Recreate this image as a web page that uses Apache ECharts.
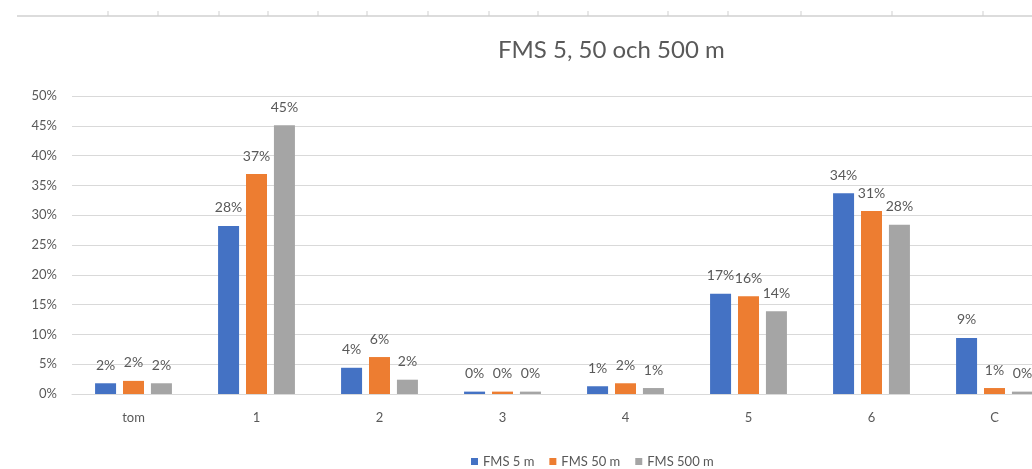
<!DOCTYPE html>
<html>
<head>
<meta charset="utf-8">
<script src="https://cdn.jsdelivr.net/npm/echarts@6/dist/echarts.min.js"></script>
<style>
  html, body { margin: 0; padding: 0; background: #fff; overflow: hidden; }
  /* the canvas is wider than the page, so the last group runs off the right edge */
  #chart { width: 1056px; height: 469px; }
</style>
</head>
<body>
<div id="chart"></div>
<script>
// Kategorier och andelar per avstånd (FMS 5, 50 och 500 m)
const categories = ['tom', '1', '2', '3', '4', '5', '6', 'C'];
const fms5   = [0.018, 0.282, 0.044, 0.004, 0.013, 0.168, 0.337, 0.094];
const fms50  = [0.022, 0.369, 0.062, 0.004, 0.018, 0.164, 0.307, 0.010];
const fms500 = [0.018, 0.451, 0.024, 0.004, 0.010, 0.139, 0.284, 0.004];
const seriesNames = ['FMS 5 m', 'FMS 50 m', 'FMS 500 m'];
const colors = ['#4472C4', '#ED7D31', '#A5A5A5'];

// Ruler ticks along the top strip
const rulerTicks = [108, 158, 219, 268, 318, 367, 428, 489, 538, 588, 668, 728, 801, 892, 983];

const FONT = 'Lato, "Open Sans", sans-serif';
const TEXT = '#595959';

const pct = v => Math.round(v * 100) + '%';

function barSeries(name, data, color) {
  return {
    name: name,
    type: 'bar',
    data: data,
    barWidth: 21,
    barGap: '33%',
    itemStyle: { color: color },
    label: {
      show: true,
      position: 'top',
      distance: 11,
      color: TEXT,
      fontFamily: FONT,
      fontSize: 14,
      formatter: p => pct(p.value)
    }
  };
}

const chart = echarts.init(document.getElementById('chart'), null, { renderer: 'canvas' });

const graphics = [
  { type: 'line', shape: { x1: 17, y1: 16, x2: 1056, y2: 16 }, style: { stroke: '#dcdcdc', lineWidth: 2 } }
].concat(rulerTicks.map(x => ({
  type: 'line', shape: { x1: x, y1: 11, x2: x, y2: 16 }, style: { stroke: '#cfcfcf', lineWidth: 1 }
})));

chart.setOption({
  animation: false,
  backgroundColor: '#fff',
  title: {
    text: 'FMS 5, 50 och 500 m',
    left: 493,
    top: 33,
    textStyle: { color: TEXT, fontFamily: FONT, fontSize: 24, fontWeight: 'normal' }
  },
  legend: {
    data: seriesNames,
    left: 466,
    top: 450,
    itemWidth: 7,
    itemHeight: 7,
    itemGap: 15,
    icon: 'rect',
    textStyle: { color: TEXT, fontFamily: FONT, fontSize: 13 }
  },
  grid: { left: 72, top: 96, right: 0, height: 298, containLabel: false },
  xAxis: {
    type: 'category',
    data: categories,
    axisLine: { lineStyle: { color: '#d9d9d9' } },
    axisTick: { show: false },
    axisLabel: { color: TEXT, fontFamily: FONT, fontSize: 13, margin: 17 }
  },
  yAxis: {
    type: 'value',
    min: 0,
    max: 0.5,
    interval: 0.05,
    axisLine: { show: false },
    axisTick: { show: false },
    splitLine: { lineStyle: { color: '#d9d9d9' } },
    axisLabel: { color: TEXT, fontFamily: FONT, fontSize: 13, margin: 15, formatter: v => pct(v) }
  },
  series: [
    barSeries(seriesNames[0], fms5, colors[0]),
    barSeries(seriesNames[1], fms50, colors[1]),
    barSeries(seriesNames[2], fms500, colors[2])
  ],
  graphic: graphics
});
</script>
</body>
</html>
